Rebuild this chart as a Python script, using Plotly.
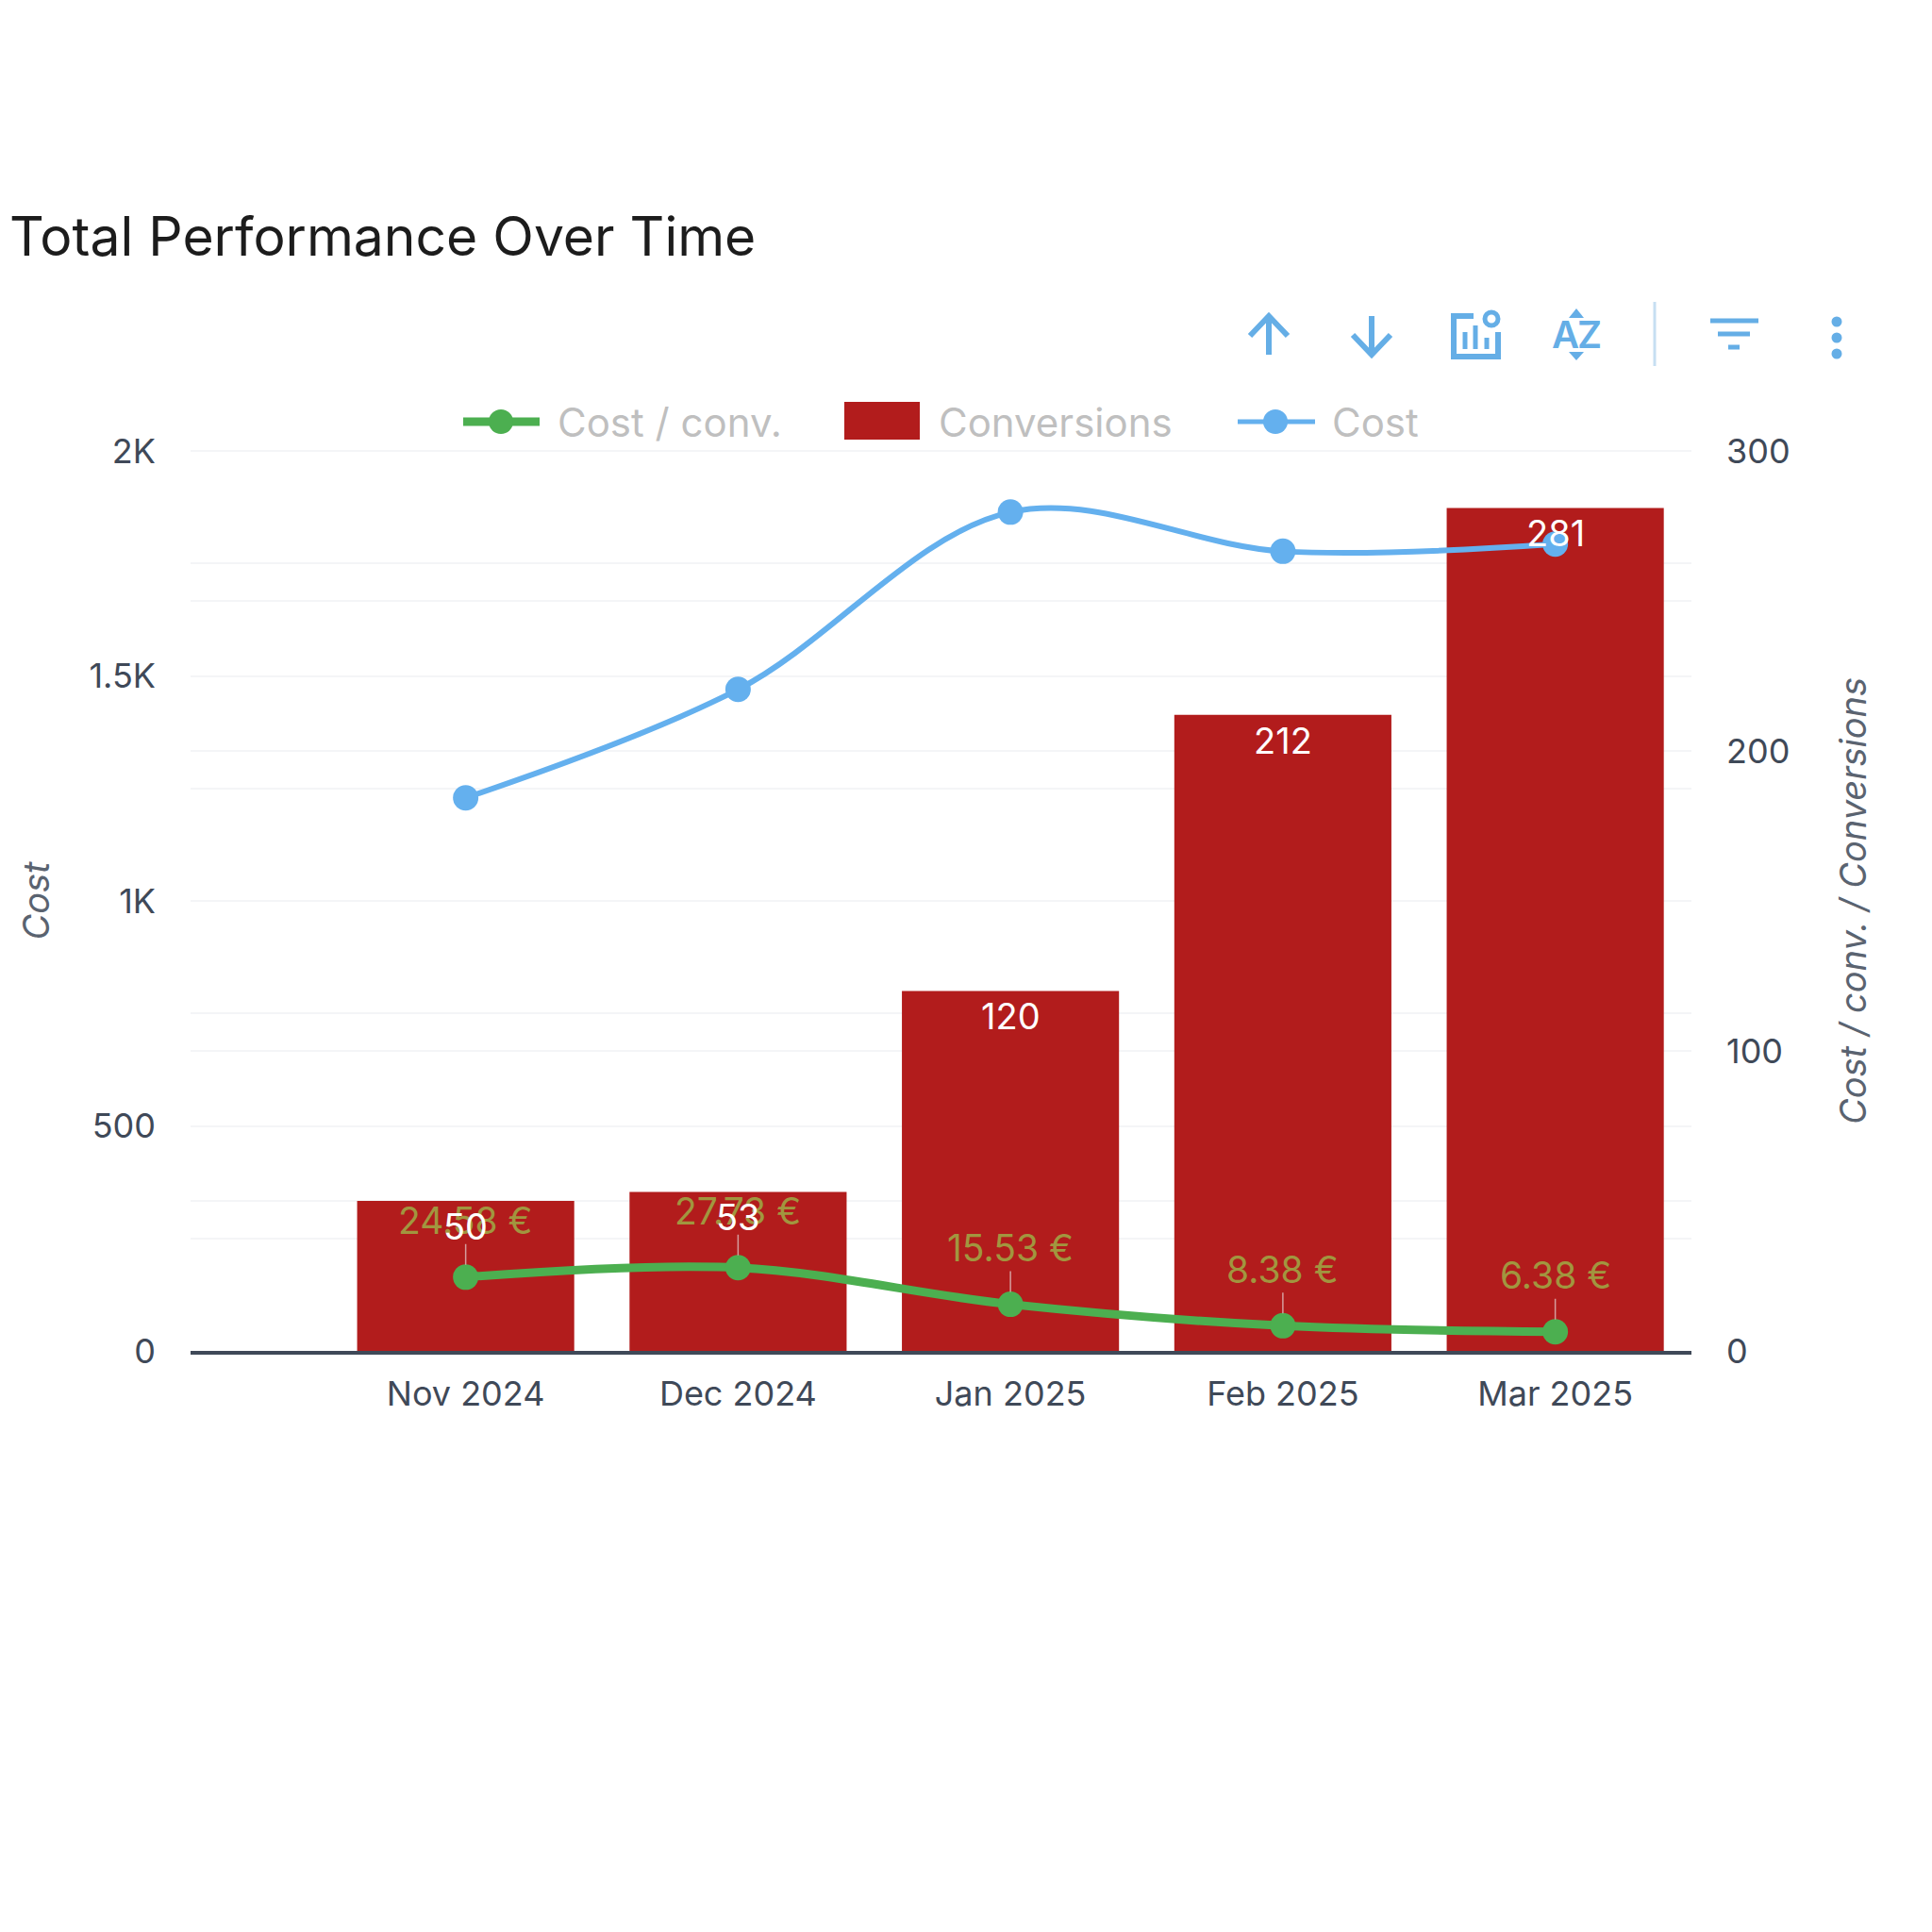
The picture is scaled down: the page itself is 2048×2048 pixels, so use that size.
import plotly.graph_objects as go

months = ["Nov 2024", "Dec 2024", "Jan 2025", "Feb 2025", "Mar 2025"]
conversions = [50, 53, 120, 212, 281]
cost = [1229, 1470, 1864, 1777, 1793]
cost_per_conv = [24.58, 27.73, 15.53, 8.38, 6.38]
cost_per_conv_labels = ["24.58 €", "27.73 €", "15.53 €", "8.38 €", "6.38 €"]
left_tick_vals = [0, 500, 1000, 1500, 2000]
left_tick_text = ["0", "500", "1K", "1.5K", "2K"]
right_tick_vals = [0, 100, 200, 300]

FONT = "Inter"
RED = "#b21c1c"
GREEN = "#4caf50"
BLUE = "#64b0ee"
ICON = "#65aee6"
TICK = "#3f4958"
LEGEND_TEXT = "#bfbfbf"
GRID = "#f4f5f7"

ML, MR, MT, MB = 202, 255, 478, 616
PW = 2048 - ML - MR
PH = 2048 - MT - MB

def X(v):
    return (v - ML) / PW

def Y(v):
    return (2048 - MB - v) / PH

def line_shape(x0, y0, x1, y1, color, width):
    return dict(type="line", xref="paper", yref="paper", x0=X(x0), y0=Y(y0), x1=X(x1), y1=Y(y1),
                line=dict(color=color, width=width), layer="above")

def circle_shape(cx, cy, r, color, line_color=None, line_width=0):
    return dict(type="circle", xref="paper", yref="paper", x0=X(cx - r), x1=X(cx + r), y0=Y(cy - r), y1=Y(cy + r),
                fillcolor=color, line=dict(color=line_color or color, width=line_width), layer="above")

def path_shape(points, color, width=0, fill=None, closed=False):
    d = "M" + " L".join(f"{X(a):.5f},{Y(b):.5f}" for a, b in points) + (" Z" if closed else "")
    return dict(type="path", xref="paper", yref="paper", path=d, fillcolor=fill or "rgba(0,0,0,0)",
                line=dict(color=color, width=width), layer="above")

fig = go.Figure()
fig.add_trace(go.Bar(x=months, y=conversions, name="Conversions", marker=dict(color=RED, line=dict(width=0)),
                     width=0.797, yaxis="y", showlegend=False))
fig.add_trace(go.Scatter(x=months, y=cost_per_conv, name="Cost / conv.", mode="lines+markers", yaxis="y",
                         line=dict(color=GREEN, width=9, shape="spline"), marker=dict(color=GREEN, size=27),
                         cliponaxis=False, showlegend=False))
fig.add_trace(go.Scatter(x=months, y=cost, name="Cost", mode="lines+markers", yaxis="y2",
                         line=dict(color=BLUE, width=6, shape="spline"), marker=dict(color=BLUE, size=27),
                         cliponaxis=False, showlegend=False))

annotations = []
for m, v, t in zip(months, cost_per_conv, cost_per_conv_labels):
    annotations.append(dict(x=m, y=v, xref="x", yref="y", text=t, showarrow=True, arrowhead=0, arrowwidth=1.5,
                            arrowcolor="rgba(225,200,200,0.75)", ax=0, ay=-60, standoff=13,
                            font=dict(family=FONT, size=39, color="#a1963f")))
for m, v in zip(months, conversions):
    annotations.append(dict(x=m, y=v, xref="x", yref="y", text=str(v), showarrow=False, yshift=-27,
                            font=dict(family=FONT, size=38, color="#ffffff")))

for label, xpos in [("Cost / conv.", 589), ("Conversions", 993), ("Cost", 1410)]:
    annotations.append(dict(x=X(xpos), y=Y(447), xref="paper", yref="paper", text=label, showarrow=False,
                            xanchor="left", yanchor="middle", font=dict(family=FONT, size=42, color=LEGEND_TEXT)))
for label, xpos in [("A", 1659), ("Z", 1685)]:
    annotations.append(dict(x=X(xpos), y=Y(355), xref="paper", yref="paper", text=label, showarrow=False,
                            xanchor="center", yanchor="middle",
                            font=dict(family=FONT, size=40, color=ICON, weight=600)))

shapes = [
    dict(type="line", xref="paper", yref="paper", x0=0, x1=1, y0=1, y1=1,
         line=dict(color=GRID, width=2), layer="below"),
    line_shape(491, 447, 572, 447, GREEN, 9),
    circle_shape(531, 447, 13, GREEN),
    dict(type="rect", xref="paper", yref="paper", x0=X(895), x1=X(975), y0=Y(426), y1=Y(466),
         fillcolor=RED, line=dict(width=0), layer="above"),
    line_shape(1312, 447, 1394, 447, BLUE, 5),
    circle_shape(1352, 447, 13, BLUE),
    # toolbar
    path_shape([(1345, 376), (1345, 335)], ICON, 6),
    path_shape([(1325, 356), (1345, 335), (1365, 356)], ICON, 6),
    path_shape([(1454, 335), (1454, 376)], ICON, 6),
    path_shape([(1434, 355), (1454, 376), (1474, 355)], ICON, 6),
    path_shape([(1562, 335), (1541, 335), (1541, 378), (1588, 378), (1588, 352)], ICON, 6),
    line_shape(1553, 370, 1553, 352, ICON, 5),
    line_shape(1564, 370, 1564, 345, ICON, 5),
    line_shape(1576, 370, 1576, 358, ICON, 5),
    circle_shape(1581, 338, 7, "#ffffff", ICON, 5),
    path_shape([(1671, 327), (1663, 337), (1679, 337)], ICON, 0, ICON, True),
    path_shape([(1671, 382), (1663, 373), (1679, 373)], ICON, 0, ICON, True),
    line_shape(1754, 320, 1754, 388, "#c6dff2", 3),
    line_shape(1813, 340, 1864, 340, ICON, 5),
    line_shape(1821, 354, 1855, 354, ICON, 5),
    line_shape(1832, 368, 1844, 368, ICON, 5),
    circle_shape(1947, 341, 5.5, ICON),
    circle_shape(1947, 358, 5.5, ICON),
    circle_shape(1947, 375, 5.5, ICON),
]

tick_font = dict(family=FONT, size=36, color=TICK)
title_font = dict(family=FONT, size=38, color="#5a6370", style="italic")

fig.update_layout(
    width=2048, height=2048,
    margin=dict(l=ML, r=MR, t=MT, b=MB, pad=0),
    paper_bgcolor="#ffffff", plot_bgcolor="#ffffff",
    showlegend=False,
    title=dict(text="Total Performance Over Time", x=10 / 2048, xref="container", xanchor="left",
               y=1 - 251 / 2048, yref="container", yanchor="middle",
               font=dict(family=FONT, size=57, color="#1c1c1c")),
    xaxis=dict(type="category", categoryorder="array", categoryarray=months, range=[-1.01, 4.5],
               showgrid=False, zeroline=False, showline=True, linecolor=TICK, linewidth=3.5,
               ticks="outside", ticklen=11, tickwidth=0, tickcolor="#ffffff", tickfont=tick_font),
    yaxis=dict(side="right", range=[0, 300], tickmode="array", tickvals=right_tick_vals,
               showgrid=True, gridcolor=GRID, gridwidth=2, zeroline=False, showline=False,
               minor=dict(tick0=0, dtick=50, showgrid=True, gridcolor=GRID, gridwidth=2, ticks=""),
               ticklabelstandoff=36, tickfont=tick_font,
               title=dict(text="Cost / conv. / Conversions", font=title_font, standoff=54)),
    yaxis2=dict(side="left", overlaying="y", range=[0, 2000], tickmode="array", tickvals=left_tick_vals,
                ticktext=left_tick_text,
                showgrid=True, gridcolor=GRID, gridwidth=2, zeroline=False, showline=False,
                minor=dict(tick0=0, dtick=250, showgrid=True, gridcolor=GRID, gridwidth=2, ticks=""),
                ticklabelstandoff=36, tickfont=tick_font,
                title=dict(text="Cost", font=title_font, standoff=30)),
    annotations=annotations,
    shapes=shapes,
)

fig.write_html("out.html", config={"displayModeBar": False}, post_script="document.body.style.margin='0';")
